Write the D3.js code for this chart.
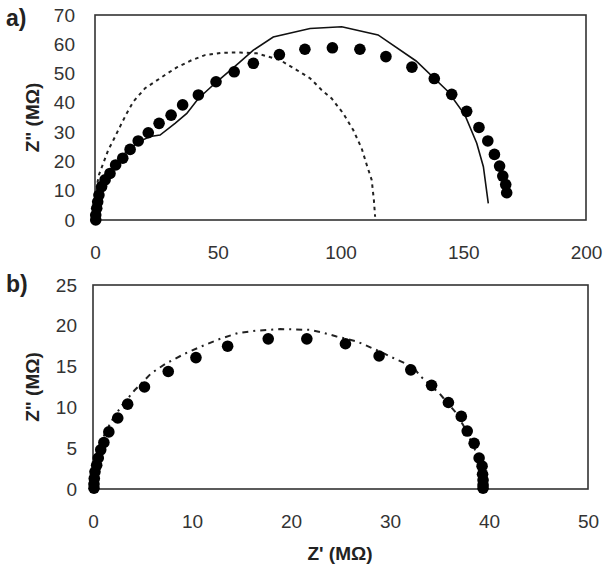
<!DOCTYPE html>
<html><head><meta charset="utf-8">
<script src="https://cdn.jsdelivr.net/npm/d3@7"></script>
<style>body{margin:0;background:#fff} text{font-family:"Liberation Sans",Arial,sans-serif}</style>
</head><body>
<svg id="c" width="610" height="571"></svg>
<script>
// ---- Panel a data ----
const aXTicks = [0, 50, 100, 150, 200];
const aYTicks = [0, 10, 20, 30, 40, 50, 60, 70];
const aDotsX = [0.3, 0.3, 0.7, 1.1, 1.6, 2.7, 4.1, 6.1, 8.4, 11.3, 14.3, 17.6, 21.7, 26.1, 31.0, 35.7, 42.1, 49.3, 56.7, 64.5, 75.1, 85.5, 96.7, 107.9, 118.5, 129.1, 138.2, 145.3, 151.4, 156.4, 160.0, 162.7, 164.8, 166.1, 167.3, 167.7];
const aDotsY = [0.0, 1.7, 4.0, 6.2, 8.5, 11.4, 13.7, 15.9, 18.8, 21.1, 24.1, 27.0, 29.8, 33.0, 35.8, 39.3, 42.7, 47.2, 50.6, 53.5, 56.5, 58.3, 58.8, 58.3, 55.8, 52.2, 48.3, 42.9, 37.1, 31.6, 27.0, 22.4, 18.4, 15.0, 12.1, 9.3];
const aSolidX = [0, 0.4, 1.2, 2.9, 5.3, 8.6, 12.6, 17.5, 22.5, 26.5, 32.6, 37.4, 42.1, 49.6, 58.4, 64.5, 72.6, 87.6, 100.5, 115.3, 130.8, 143.9, 150.7, 155.5, 158.2, 160.2];
const aSolidY = [0, 3.4, 6.8, 10.9, 15.0, 19.1, 23.2, 26.6, 28.5, 29.0, 33.0, 36.4, 41.5, 47.2, 53.5, 58.0, 62.5, 65.4, 66.0, 63.2, 54.3, 43.8, 35.8, 26.2, 18.2, 5.7];
const aDashX = [0, 0.2, 0.8, 1.6, 3.4, 5.4, 7.5, 10.2, 12.9, 15.6, 20.4, 24.4, 28.5, 33.3, 39.4, 44.8, 51.6, 59.1, 65.9, 75.4, 82.2, 87.6, 92.3, 96.4, 101.1, 105.2, 108.6, 110.7, 112.7, 113.6, 114.1];
const aDashY = [0, 6.8, 11.9, 15.4, 19.4, 23.9, 27.3, 31.9, 36.4, 40.4, 45.0, 47.2, 49.5, 52.1, 54.6, 56.3, 57.1, 57.2, 56.9, 54.6, 51.2, 48.4, 44.4, 41.5, 36.4, 30.7, 24.5, 18.8, 13.7, 6.8, 1.1];

// ---- Panel b data ----
const bXTicks = [0, 10, 20, 30, 40, 50];
const bYTicks = [0, 5, 10, 15, 20, 25];
const bDotsX = [0.1, 0.1, 0.13, 0.2, 0.37, 0.53, 0.78, 1.1, 1.6, 2.5, 3.5, 5.2, 7.6, 10.4, 13.6, 17.7, 21.6, 25.5, 28.9, 32.1, 34.2, 35.9, 37.2, 37.8, 38.5, 39.0, 39.3, 39.35, 39.4, 39.4, 39.4];
const bDotsY = [0.1, 0.6, 1.3, 2.1, 2.9, 3.8, 4.8, 5.7, 7.0, 8.7, 10.4, 12.5, 14.4, 16.1, 17.5, 18.4, 18.4, 17.8, 16.3, 14.6, 12.7, 10.6, 8.9, 7.1, 5.6, 3.8, 2.8, 1.8, 1.1, 0.5, 0.1];
const bFitX = [0, 0.1, 0.5, 1.2, 2.0, 2.9, 4.2, 5.9, 7.4, 9.3, 10.8, 12.6, 14.6, 16.5, 18.9, 21.9, 23.1, 24.6, 26.6, 28.9, 30.6, 32.3, 33.1, 35.0, 36.7, 37.5, 38.3, 39.0, 39.3, 39.4];
const bFitY = [0, 2.0, 4.5, 6.8, 8.6, 10.2, 12.1, 14.2, 15.4, 16.6, 17.4, 18.3, 19.1, 19.4, 19.6, 19.5, 19.2, 18.7, 18.1, 16.9, 15.9, 15.0, 13.8, 11.7, 9.3, 7.6, 5.6, 3.6, 1.5, 0];

const svg = d3.select("#c");
const zip = (xs, ys) => xs.map((x, i) => [x, ys[i]]);

function panel(cfg) {
  const x = d3.scaleLinear().domain(cfg.xDom).range([cfg.left, cfg.right]);
  const y = d3.scaleLinear().domain(cfg.yDom).range([cfg.bottom, cfg.top]);
  const g = svg.append("g");
  // y axis labels
  const ya = g.append("g").attr("transform", `translate(${cfg.left},0)`)
    .call(d3.axisLeft(y).tickValues(cfg.yTicks).tickSize(0).tickPadding(cfg.yPad).tickFormat(d3.format("d")));
  ya.select(".domain").remove();
  ya.selectAll("text").attr("font-size", 19).attr("fill", "#333").attr("font-family", "Liberation Sans, Arial, sans-serif");
  const xa = g.append("g").attr("transform", `translate(0,${cfg.bottom})`)
    .call(d3.axisBottom(x).tickValues(cfg.xTicks).tickSize(0).tickPadding(cfg.xPad).tickFormat(d3.format("d")));
  xa.select(".domain").remove();
  xa.selectAll("text").attr("font-size", 19).attr("fill", "#333").attr("font-family", "Liberation Sans, Arial, sans-serif");
  // frame
  g.append("rect").attr("x", cfg.left).attr("y", cfg.top)
    .attr("width", cfg.right - cfg.left).attr("height", cfg.bottom - cfg.top)
    .attr("fill", "none").attr("stroke", "#333").attr("stroke-width", 1.6);
  return {x, y, g};
}

// Panel a
const A = panel({xDom: [0, 200], yDom: [0, 70], left: 95, right: 586, top: 15, bottom: 220, xTicks: aXTicks, yTicks: aYTicks, yPad: 20, xPad: 26});
const lineA = d3.line().x(d => A.x(d[0])).y(d => A.y(d[1]));
A.g.append("path").attr("d", lineA(zip(aDashX, aDashY))).attr("fill", "none")
  .attr("stroke", "#222").attr("stroke-width", 2).attr("stroke-dasharray", "3.5,4");
A.g.append("path").attr("d", lineA(zip(aSolidX, aSolidY))).attr("fill", "none")
  .attr("stroke", "#111").attr("stroke-width", 1.6);
A.g.selectAll("circle").data(zip(aDotsX, aDotsY)).join("circle")
  .attr("cx", d => A.x(d[0])).attr("cy", d => A.y(d[1])).attr("r", 5.8).attr("fill", "#000");

// Panel b
const B = panel({xDom: [0, 50], yDom: [0, 25], left: 93, right: 588, top: 285, bottom: 489, xTicks: bXTicks, yTicks: bYTicks, yPad: 16, xPad: 26});
const lineB = d3.line().x(d => B.x(d[0])).y(d => B.y(d[1]));
B.g.append("path").attr("d", lineB(zip(bFitX, bFitY))).attr("fill", "none")
  .attr("stroke", "#222").attr("stroke-width", 2).attr("stroke-dasharray", "6,5,2,5");
B.g.selectAll("circle").data(zip(bDotsX, bDotsY)).join("circle")
  .attr("cx", d => B.x(d[0])).attr("cy", d => B.y(d[1])).attr("r", 5.8).attr("fill", "#000");

// Titles
const bold = {"font-weight": "bold", "font-size": 19, "fill": "#222"};
function t(x0, y0, s, rot, size) {
  const e = svg.append("text").attr("x", x0).attr("y", y0).attr("text-anchor", "middle")
    .attr("dominant-baseline", "central").attr("font-weight", "bold").attr("font-size", size || 19).attr("fill", "#222").text(s);
  if (rot) e.attr("transform", `rotate(-90,${x0},${y0})`);
  return e;
}
t(32, 117.5, "Z\" (MΩ)", true);
t(32, 387, "Z\" (MΩ)", true);
t(340, 553, "Z' (MΩ)");
svg.append("text").attr("x", 6).attr("y", 26).attr("font-weight", "bold").attr("font-size", 23).attr("fill", "#222").text("a)");
svg.append("text").attr("x", 6).attr("y", 292).attr("font-weight", "bold").attr("font-size", 23).attr("fill", "#222").text("b)");
</script>
</body></html>
